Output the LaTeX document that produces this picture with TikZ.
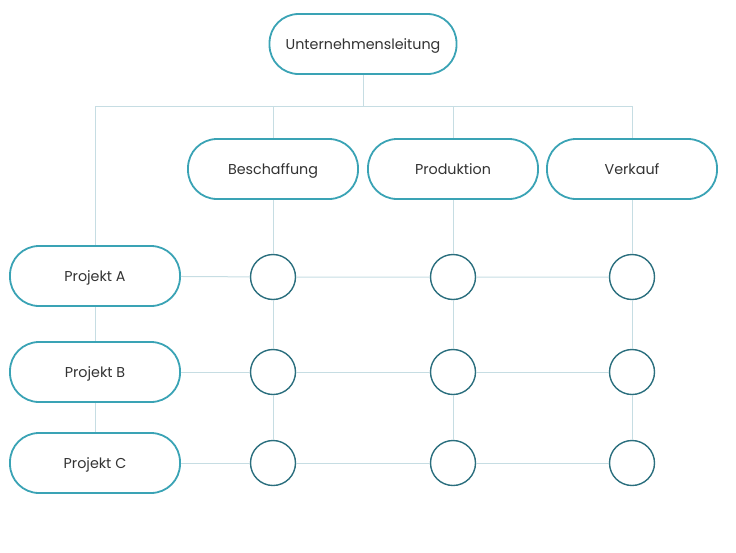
\documentclass[tikz,border=0pt]{standalone}
\usepackage{fontspec}
\setmainfont{Poppins}
\usetikzlibrary{positioning}

\definecolor{boxteal}{HTML}{3AA3B5}
\definecolor{ringteal}{HTML}{2B6F7E}
\definecolor{linegray}{HTML}{C6DDE3}

\tikzset{
  unit/.style={draw=boxteal, line width=1.8pt, fill=white, rounded corners=29pt,
    minimum width=170pt, minimum height=60pt, font=\fontsize{14.3}{16}\selectfont, text=black!80,
    text height=10pt, text depth=0pt},
  cell/.style={draw=ringteal, line width=1.4pt, fill=white, circle, minimum size=45pt, inner sep=0pt},
  link/.style={draw=linegray, line width=1pt}
}

\begin{document}
\begin{tikzpicture}[x=1pt, y=-1pt]
        \useasboundingbox (0,0) rectangle (736,552);

        % the head and the departments
        \node[unit, minimum width=187pt] (leitung) at (363,44) {Unternehmensleitung};
        \node[unit] (beschaffung) at (273,169) {Beschaffung};
        \node[unit] (produktion) at (453,169) {Produktion};
        \node[unit] (verkauf) at (632,169) {Verkauf};

        % the projects
        \node[unit] (pa) at (95,276) {Projekt A};
        \node[unit] (pb) at (95,372) {Projekt B};
        \node[unit] (pc) at (95,463) {Projekt C};

        % the cells of the matrix
        \foreach \r/\y in {1/277, 2/372, 3/463}
          \foreach \c/\x in {1/273, 2/453, 3/632}
            \node[cell] (c\r\c) at (\x,\y) {};

        % the bus under the head
        \coordinate (busL) at (95,106);
        \coordinate (busR) at (632,106);
        \draw[link] (busL) -- (busR);
        \draw[link] (leitung) -- (leitung |- busL);
        \draw[link] (busL) -- (pa);
        \draw[link] (beschaffung |- busL) -- (beschaffung);
        \draw[link] (produktion |- busL) -- (produktion);
        \draw[link] (verkauf |- busL) -- (verkauf);

        % the rows and columns
        \draw[link] (pa) -- (pb) -- (pc);
        \draw[link] (pa) -- (c11) -- (c12) -- (c13);
        \draw[link] (pb) -- (c21) -- (c22) -- (c23);
        \draw[link] (pc) -- (c31) -- (c32) -- (c33);
        \draw[link] (beschaffung) -- (c11) -- (c21) -- (c31);
        \draw[link] (produktion) -- (c12) -- (c22) -- (c32);
        \draw[link] (verkauf) -- (c13) -- (c23) -- (c33);
\end{tikzpicture}
\end{document}
